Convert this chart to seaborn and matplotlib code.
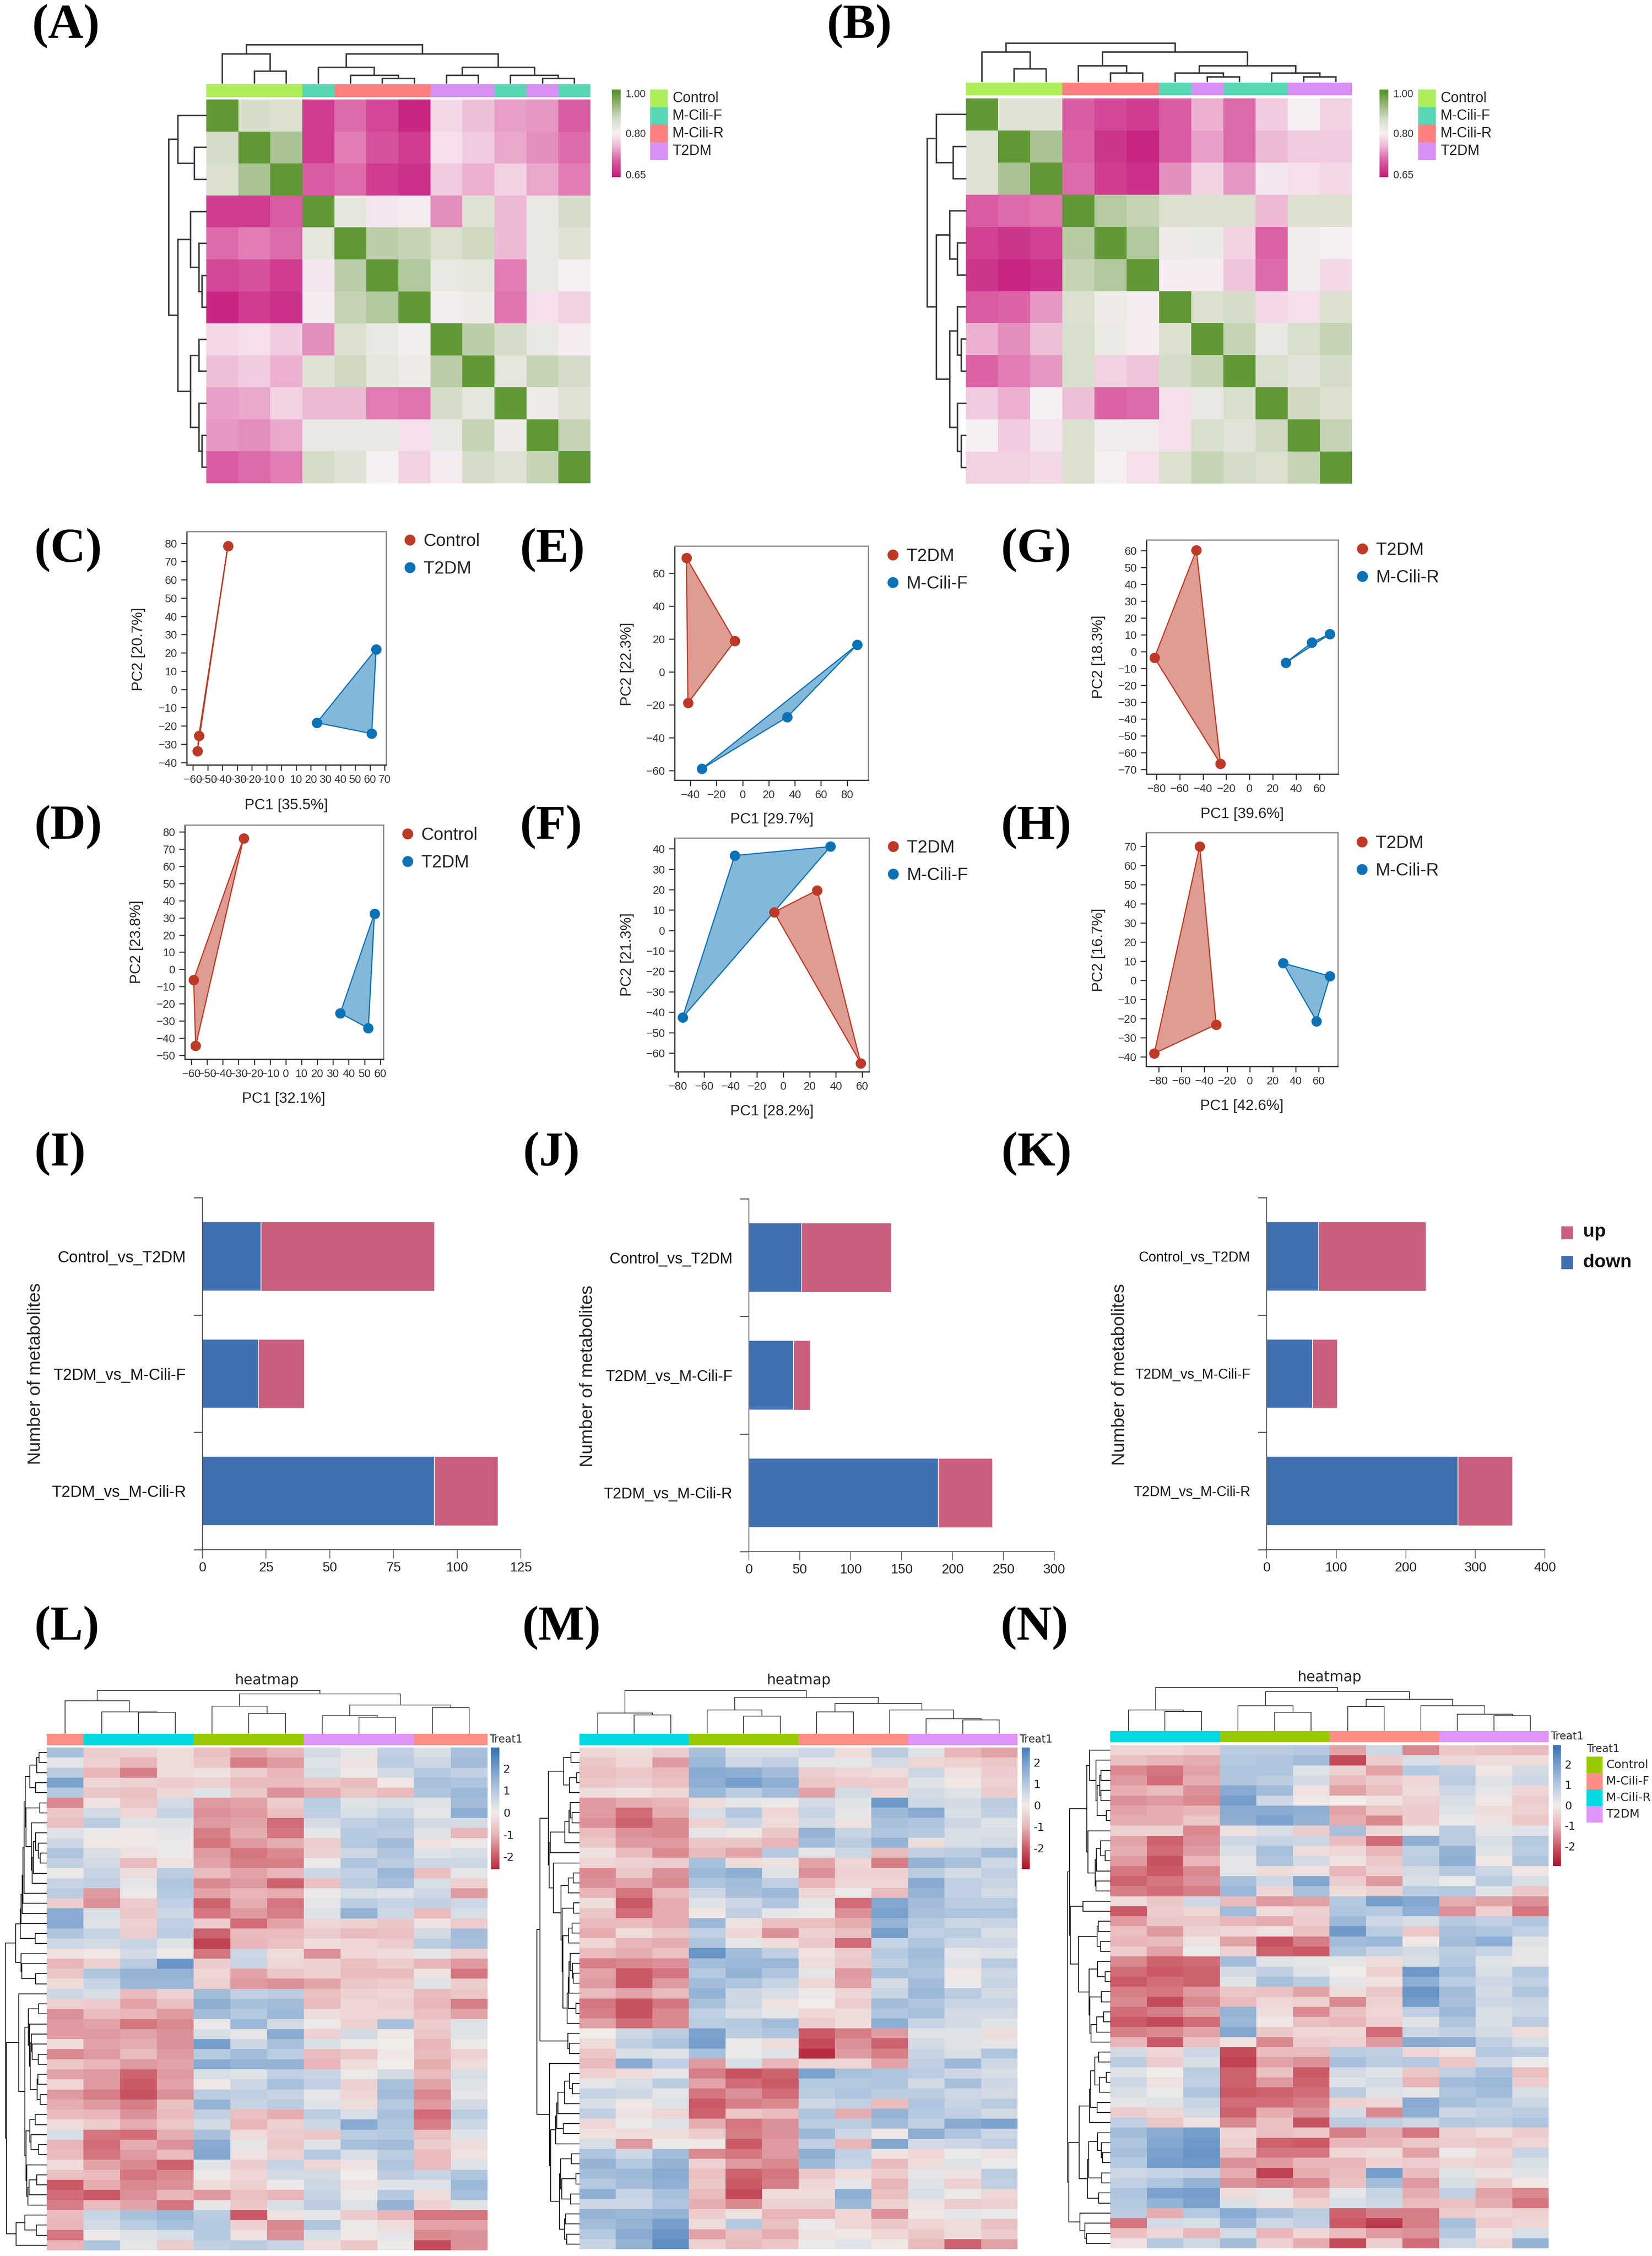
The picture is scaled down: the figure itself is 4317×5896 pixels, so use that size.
import numpy as np
import matplotlib
matplotlib.use("Agg")
import matplotlib.pyplot as plt
import seaborn as sns
from matplotlib import font_manager
from matplotlib.colors import LinearSegmentedColormap, ListedColormap, Normalize, TwoSlopeNorm
from matplotlib.lines import Line2D
from matplotlib.patches import Rectangle

W, H = 4317, 5896

# %% correlation heatmaps (A, B)
GROUP_COLORS_TOP = {"Control": "#ADEE5A", "M-Cili-F": "#58D7B5", "M-Cili-R": "#FF7F7F", "T2DM": "#D890F7"}
GROUPS_A = ["Control"] * 3 + ["M-Cili-F"] + ["M-Cili-R"] * 3 + ["T2DM"] * 2 + ["M-Cili-F", "T2DM", "M-Cili-F"]
GROUPS_B = ["Control"] * 3 + ["M-Cili-R"] * 3 + ["M-Cili-F", "T2DM", "M-Cili-F", "M-Cili-F", "T2DM", "T2DM"]

CORR_A = [
    [1.00, .87, .86, .67, .71, .68, .65, .78, .76, .74, .735, .70],
    [.87, 1.00, .92, .67, .72, .69, .67, .785, .77, .745, .73, .71],
    [.86, .92, 1.00, .70, .71, .67, .66, .77, .75, .775, .745, .72],
    [.67, .67, .70, 1.00, .84, .79, .795, .73, .85, .755, .83, .87],
    [.71, .72, .71, .84, 1.00, .90, .89, .86, .88, .755, .83, .85],
    [.68, .69, .67, .79, .90, 1.00, .91, .83, .84, .72, .83, .80],
    [.65, .67, .66, .795, .89, .91, 1.00, .81, .82, .715, .785, .775],
    [.78, .785, .77, .73, .86, .83, .81, 1.00, .90, .87, .83, .795],
    [.76, .77, .75, .85, .88, .84, .82, .90, 1.00, .84, .89, .87],
    [.74, .745, .775, .755, .755, .72, .715, .87, .84, 1.00, .82, .85],
    [.735, .73, .745, .83, .83, .83, .785, .83, .89, .82, 1.00, .89],
    [.70, .71, .72, .87, .85, .80, .775, .795, .87, .85, .89, 1.00],
]
CORR_B = [
    [1.00, .85, .85, .70, .68, .67, .70, .75, .71, .77, .80, .775],
    [.85, 1.00, .92, .705, .665, .65, .70, .74, .71, .755, .77, .77],
    [.85, .92, 1.00, .71, .67, .66, .73, .775, .735, .79, .785, .78],
    [.70, .71, .715, 1.00, .905, .89, .86, .86, .86, .755, .86, .86],
    [.675, .665, .675, .905, 1.00, .91, .82, .825, .775, .705, .815, .80],
    [.665, .65, .66, .89, .91, 1.00, .795, .795, .765, .71, .815, .78],
    [.70, .705, .735, .86, .82, .795, 1.00, .86, .87, .78, .785, .86],
    [.75, .73, .76, .865, .825, .795, .86, 1.00, .89, .83, .865, .89],
    [.705, .72, .735, .865, .775, .765, .87, .89, 1.00, .865, .845, .87],
    [.77, .75, .80, .76, .705, .71, .785, .83, .865, 1.00, .88, .86],
    [.80, .77, .79, .86, .815, .815, .785, .865, .845, .88, 1.00, .89],
    [.775, .775, .78, .86, .80, .785, .86, .89, .87, .86, .89, 1.00],
]
# (height, left, right), ints are leaves
TREE_A = (128, (97, 0, (40, 1, 2)), (97, (53, 3, (25, 4, (15, 5, 6))), (53, (25, 7, 8), (25, 9, (15, 10, 11)))))
TREE_B = (128, (98, 0, (42, 1, 2)), (98, (53, 3, (28, 4, 5)), (53, (28, 6, (15, 7, 8)), (28, 9, (15, 10, 11)))))

# %% PCA panels (C - H): PC1, PC2 of the 3 samples per group
C_CTRL_X, C_CTRL_Y = [-36.3, -56, -57], [78.5, -25.3, -33.8]
C_T2DM_X, C_T2DM_Y = [64.2, 24, 61.2], [22, -18.2, -24.2]
D_CTRL_X, D_CTRL_Y = [-26.8, -58.5, -57.2], [76.4, -6.1, -44.5]
D_T2DM_X, D_T2DM_Y = [56.3, 34.6, 52.4], [32.5, -25.5, -34.3]
E_T2DM_X, E_T2DM_Y = [-43, -6, -41.8], [69.2, 18.7, -19]
E_CILI_X, E_CILI_Y = [87.7, 34.2, -31.3], [16.4, -27.5, -59]
F_T2DM_X, F_T2DM_Y = [25.8, -7, 58.9], [19.7, 9, -65]
F_CILI_X, F_CILI_Y = [35.9, -36.9, -76.5], [41.1, 36.7, -42.6]
G_T2DM_X, G_T2DM_Y = [-45.7, -81.7, -24.9], [60.2, -3.7, -66.7]
G_CILI_X, G_CILI_Y = [69.1, 53.6, 31], [10.4, 5.3, -6.7]
H_T2DM_X, H_T2DM_Y = [-44, -29.6, -83.8], [70.1, -23.1, -38.2]
H_CILI_X, H_CILI_Y = [29, 70, 58.3], [9, 2.2, -21.3]

# %% stacked bars (I, J, K)
COMPARISONS = ["Control_vs_T2DM", "T2DM_vs_M-Cili-F", "T2DM_vs_M-Cili-R"]
I_DOWN, I_UP = [23, 22, 91], [68, 18, 25]
J_DOWN, J_UP = [52, 44, 186], [88, 16, 53]
K_DOWN, K_UP = [75, 66, 275], [154, 35, 78]

# %% metabolite heatmaps (L, M, N), read off in coarse rows
GROUP_COLORS_LOW = {"Control": "#97CB00", "M-Cili-F": "#FF8F85", "M-Cili-R": "#00DAE0", "T2DM": "#DF95FB"}
GROUPS_L = ["M-Cili-F"] + ["M-Cili-R"] * 3 + ["Control"] * 3 + ["T2DM"] * 3 + ["M-Cili-F"] * 2
GROUPS_M = ["M-Cili-R"] * 3 + ["Control"] * 3 + ["M-Cili-F"] * 3 + ["T2DM"] * 3
GROUPS_N = GROUPS_M
TREE_L = (102, (77, 0, (51, 1, (50, 2, 3))),
          (94, (65, 4, (47, 5, 6)), (67, (42, 7, (38, 8, 9)), (61, 10, 11))))
TREE_M = (102, (48, 0, (44, 1, 2)),
          (86, (56, 3, (41, 4, 5)), (71, (51, 6, 7), (56, 8, (35, 9, (32, 10, 11))))))
TREE_N = (103, (49, 0, (46, 1, 2)),
          (93, (59, 3, (44, 4, 5)), (75, (57, 6, 7), (59, 8, (39, 9, (36, 10, 11))))))

VALUES_L = [
    [1.2, -.6, -.5, -.3, -.8, -1.2, -1.0, .5, .2, .8, .4, 1.2],
    [.2, -.5, -1.0, -.3, -.7, -1.6, -1.3, .3, -.2, .9, .6, 1.3],
    [.9, -1.0, -1.6, -.3, -.2, -.6, -1.0, .4, .1, .5, 1.0, .8],
    [1.9, -.4, -.5, -.6, -.5, -.9, -.9, -.7, -.9, -.1, 1.2, 1.1],
    [1.0, -.7, -.8, -.4, .3, -.7, -1.4, -1.1, -.7, -.9, 1.1, 1.4],
    [-1.5, -.2, -.7, .5, -1.3, -1.2, -.6, .9, .3, .4, .3, 1.3],
    [-.7, .5, -.4, .7, -1.4, -1.3, -.8, .8, .4, .7, .2, 1.6],
    [-.8, .9, .3, .3, -1.3, -1.2, -1.8, .5, .8, 1.0, .5, .5],
    [.3, .1, -.1, .2, -1.6, -1.1, -1.7, .2, 1.0, .9, .3, -1.0],
    [.6, -.1, -.1, .1, -1.7, -1.3, -1.1, -.6, 1.0, 1.3, -.2, .1],
    [1.1, .4, -.2, .1, -1.3, -1.7, -1.5, -.5, .6, 1.1, .3, .4],
    [.8, .5, -.9, -.2, -1.2, -1.6, -1.6, .1, 1.1, .9, .6, .6],
    [.1, .7, -.3, .9, -.9, -1.2, -1.0, .6, .8, 1.4, -.8, .2],
    [.7, .8, .2, 1.1, -1.5, -1.3, -1.9, -.8, .9, 1.2, .4, -.5],
    [.9, -1.3, .1, 1.0, -1.2, -1.0, -1.1, .1, .4, .3, .6, -1.3],
    [-.6, -1.4, -.6, .8, -1.9, -1.1, -1.7, .2, .9, .7, .8, .6],
    [1.7, .4, -.7, .6, -1.7, -1.3, -1.6, .3, 1.5, .6, -.9, .4],
    [1.7, .3, -.5, .8, -.6, -1.8, -1.2, -.4, -.5, -.7, -.2, -.6],
    [1.1, .7, -.6, .9, -1.9, -.9, -.9, -.6, -.9, -.8, .5, 1.3],
    [.6, .5, .7, .3, -2.3, -1.0, -.8, -.3, -.4, -.6, .9, 1.2],
    [-.2, -.1, .5, .1, -1.7, .6, -.3, -1.4, -.4, -.3, .2, -.5],
    [-1.0, -.5, .9, 2.2, -.6, .7, -.4, -.5, -.8, -.6, -1.0, -1.3],
    [-.7, 1.1, 1.5, 1.5, -.4, -1.2, -.7, -.5, -.9, -.9, -.2, -1.7],
    [-.3, .7, 1.4, 1.4, -.5, -1.3, -1.4, -1.2, -.7, -.6, .3, -.6],
    [.6, .4, -.9, -.5, 1.3, .8, .9, -.8, -.5, -.4, -.9, -.7],
    [-.5, -.6, -1.2, -.8, 1.6, 1.2, 1.3, -.9, -.4, -.5, -1.0, -1.6],
    [-1.4, -.9, -1.0, -1.3, 1.3, 1.0, 1.4, -.3, -.4, -.4, -.8, -1.2],
    [-1.3, -1.2, -1.7, -1.5, .1, 1.4, .5, .1, -.5, 1.2, -.6, .3],
    [-1.3, -1.3, -1.2, -1.4, .4, .2, 1.7, -.5, .5, -.1, -.7, .3],
    [-.3, -1.2, -1.1, -1.4, 2.0, .6, 1.2, .4, .1, 0, -1.0, .1],
    [-1.5, -1.3, -.9, -1.3, 1.0, 1.3, .9, -.9, -.7, -.1, -.9, -.5],
    [-.7, -1.0, -1.3, -1.2, 1.7, 1.5, 1.5, -1.0, -.3, 0, -1.1, -.3],
    [-1.2, -1.3, -1.9, -1.3, .4, .3, .8, .7, .1, .5, -.9, .4],
    [-.4, -1.3, -2.0, -1.2, -.1, .6, 1.2, .8, -.5, 1.2, -1.2, .3],
    [-1.3, -1.6, -2.1, -1.4, .9, .8, .7, .2, -.4, 1.3, -1.5, .2],
    [-1.1, -1.3, -1.6, -.8, 1.5, .7, .9, .3, -.3, 1.0, -1.3, .5],
    [-.9, -1.0, -1.4, -.9, .8, -.8, -1.1, .9, .4, 1.2, -1.8, .9],
    [-.3, -.6, -1.1, -.7, .5, -1.0, -.5, .6, 1.7, 1.1, -1.6, .6],
    [.4, -1.7, -1.8, -1.1, 1.2, -.3, -.6, -.7, .9, 1.0, -.8, .3],
    [-1.0, -1.8, -1.1, -1.4, 1.7, .2, -.7, .3, 1.2, 1.3, -.6, -.3],
    [-.9, -1.7, -1.3, -.9, 1.8, -.2, -.5, 1.0, .4, .9, -.9, -.2],
    [-.3, -1.2, -1.5, -1.9, .3, -.6, .7, -.4, -.2, 1.1, -.9, .3],
    [-.8, -.9, -1.7, -1.5, .1, -.4, .5, .5, 0, .9, .7, 1.1],
    [-2.0, -1.1, -1.5, -1.4, -.3, -.5, .1, .6, -.2, .3, .3, 1.4],
    [-1.8, -2.0, -1.4, -1.0, -1.3, -.8, -1.0, .7, .1, 1.0, -.3, 1.2],
    [-1.6, -.9, -1.2, -1.7, .2, -.7, .4, .9, .3, 1.5, -.5, .3],
    [-.9, .7, 1.2, 1.4, .9, -2.0, -.2, .2, -.6, -1.0, -1.7, -1.7],
    [-1.0, .5, .9, 1.2, 1.0, -.5, -1.5, 1.1, .1, -.3, -1.2, -1.2],
    [-1.7, .1, .3, .4, 1.0, -.2, -1.4, .4, -.1, .2, -1.5, -1.4],
    [-1.0, 1.1, .2, -.6, .8, .9, .7, -.3, -.7, .1, -2.2, -1.4],
]
VALUES_M = [
    [-.4, -.3, -.6, 1.2, .4, .4, .6, -.3, .9, .3, -1.0, -1.2],
    [-.7, -.4, -1.3, 1.4, .6, .8, .2, .2, .5, -.4, -.5, -.7],
    [-.8, -.7, -.9, 1.7, 1.6, 1.3, -.6, -.4, -.3, .6, -.2, -.6],
    [-.7, -.6, -.8, 1.6, 2.0, 1.6, -.7, -.6, -.6, .3, -.1, -.5],
    [-.3, -.2, -.4, 1.4, .9, 1.3, -1.2, .5, -.4, .5, .3, -.6],
    [-1.3, -1.1, -1.0, -.3, .2, .1, .5, .3, 2.1, .6, .5, .9],
    [-1.3, -1.8, -1.1, .4, 1.0, -.4, .7, .2, 1.4, 1.7, .4, .8],
    [-1.4, -1.9, -1.5, -.5, .6, -.3, .5, -.2, 1.2, 1.1, .6, .3],
    [-.9, -1.4, -1.5, .2, -.1, -.7, 1.5, .7, 1.1, 1.0, .4, .4],
    [-.7, -1.3, -1.3, -.7, -.7, -1.0, 1.3, .9, 1.5, -.3, .4, .5],
    [-.2, -.9, -1.5, -.9, -1.2, 1.0, .2, .6, -.9, .8, .9, 1.3],
    [-.4, -.5, -.6, 1.2, -.3, -.2, -1.2, -.4, -1.6, 1.5, 1.2, .6],
    [-1.5, -.7, -1.4, 1.4, 1.6, .3, -1.4, -.5, -.5, .9, .5, .8],
    [-1.4, -1.2, -1.5, 1.1, 1.3, .8, -1.0, -.4, -.4, 1.7, .8, .7],
    [-1.0, -1.7, -.9, .6, 1.2, 1.4, -.4, .1, -.9, 1.5, .8, .5],
    [-.3, -2.0, -1.1, .3, .6, 1.1, .2, -1.8, 1.8, 1.3, .9, .9],
    [-.7, -1.8, -1.1, -.1, .8, .2, .1, -1.4, 1.9, 1.2, 1.1, 1.1],
    [-.9, -.9, -1.1, 1.4, -.2, -.8, -.8, -1.1, 1.5, 1.0, .6, .7],
    [-1.1, -.3, -.7, .8, -.4, -1.4, -.5, -.8, 2.0, .8, .9, .4],
    [-.4, -1.0, -1.1, 1.1, .2, -.3, -.7, -1.8, .7, 1.1, .6, .6],
    [-.9, -1.1, -.8, 2.2, 1.3, .8, -.2, -.6, 1.0, 1.3, .2, .3],
    [-1.6, -1.5, -1.4, 1.3, 1.4, 1.4, -.3, -.7, .8, 1.2, .3, .9],
    [-1.2, -2.0, -1.7, 1.0, 1.5, 1.1, .2, -1.3, 1.2, 1.1, -.1, .6],
    [-1.3, -2.0, -1.3, 1.3, 1.1, .7, -.4, -1.2, .5, 1.3, .1, .7],
    [-.9, -1.2, -.9, 1.5, .6, .4, .1, -.4, .7, 1.4, .9, .5],
    [-1.7, -2.1, -1.7, 1.2, .6, -.2, 0, -.6, 1.3, 1.1, .7, .7],
    [-1.6, -2.1, -1.5, .8, .4, .2, -.4, -.3, 1.1, 1.2, .5, .5],
    [-1.2, -1.8, -1.5, .9, 1.0, 1.3, -.6, -.3, 1.6, .7, .5, .3],
    [0, .6, .9, 1.9, .9, 1.1, -2.0, -1.6, -1.3, .3, .3, -.3],
    [-.3, .8, 1.1, 2.0, .1, -.3, -2.2, -1.4, -1.9, .5, .3, .2],
    [-.7, .4, .3, 1.2, .1, .3, -2.6, -1.3, -1.6, .7, .4, 1.1],
    [-.9, 1.7, .8, -1.3, .4, -1.0, -.4, -.4, -1.2, .8, 1.4, .6],
    [-.5, -.3, .2, -1.6, -2.1, -1.9, 1.9, 1.2, 1.1, .9, .6, .4],
    [.2, .4, .9, -1.2, -1.8, -2.0, 1.0, 1.0, 1.1, .5, 1.2, .6],
    [.7, .6, .2, -1.7, -1.4, -1.8, .9, 1.1, .9, .9, .6, .5],
    [.4, -.1, .3, -2.0, -1.6, -1.5, .6, .8, -.9, 1.1, .7, .9],
    [.8, -.2, -.4, -1.9, -.7, -.9, 1.1, -1.1, 1.5, 1.0, .8, .5],
    [-.4, .1, .3, -1.1, -1.7, -1.4, .9, .9, 1.3, .8, 1.7, 1.9],
    [-.2, -.3, -.3, -.6, -1.6, -1.4, 1.4, .6, -.1, 1.6, 1.1, .6],
    [.4, -1.3, .1, -.1, -2.0, -1.3, .8, -1.0, 1.8, .5, .6, .8],
    [1.1, .6, 1.3, -1.5, -1.7, -1.3, 1.6, .8, -.2, -.4, .1, -.2],
    [1.5, 1.0, 1.5, -.5, -1.3, -1.5, 1.4, .7, -.9, -.3, .3, .1],
    [1.3, 1.4, 1.7, -.8, -1.9, -1.7, -.7, -.3, -.6, .2, -.2, .9],
    [1.0, 1.3, 1.6, -.7, -2.0, -1.6, -.4, .2, -1.0, .3, -.5, .8],
    [1.6, .7, 1.2, -.9, -2.2, -.3, -.3, 1.6, -.8, .4, .1, -.4],
    [.6, .6, 1.1, -1.1, -1.5, -.5, -.5, 1.4, -.5, -.2, -.6, -.5],
    [1.5, 1.4, 1.5, -.6, -.2, -1.0, -1.0, -.4, -1.4, -.1, .2, .1],
    [1.3, 1.5, 2.0, -.3, 1.0, -.8, .1, -.4, -.7, -.4, -.3, -.8],
    [1.0, 1.7, 2.2, -1.2, -.8, -1.1, -.2, -.1, -.4, -.7, -.3, -.6],
    [.7, 1.5, 2.3, -.5, -.9, -.7, .1, .3, -.1, -.9, -1.9, -1.2],
]
VALUES_N = [
    [-.4, -.4, -.6, .9, .9, 1.0, -1.2, .6, -1.5, -.7, -.8, -.9],
    [-.8, -1.0, -1.1, 1.0, 1.1, 1.3, -2.2, -.6, .4, -.4, -.3, -.3],
    [-1.5, -1.7, -1.2, 1.1, 1.1, .3, -.5, -1.2, 1.0, .8, -.1, .5],
    [-1.3, -1.8, -1.1, 1.1, .9, .5, -.9, -.6, -.4, .9, .3, .6],
    [-1.1, -.9, -1.4, 1.7, 1.3, -.2, -1.2, -.8, -.3, .6, .2, -.4],
    [-1.4, -1.3, -1.5, 2.0, .6, -.1, 0, -.2, -.5, .4, -.1, -.6],
    [-1.2, -1.1, -1.0, 1.7, 1.7, 1.6, -1.2, -.7, -.6, .3, -.3, -.5],
    [-1.1, -1.1, -.7, 1.6, 1.9, 1.5, -1.1, -1.5, -.6, .1, -.2, -.7],
    [-.5, -.5, -1.5, -.2, .4, -.6, 1.2, -.4, .1, .9, .2, .3],
    [-1.2, -1.9, -1.4, .6, .7, .6, -.9, -1.8, 1.6, .9, .4, 1.0],
    [-1.1, -1.8, -1.3, .4, 1.2, -.3, -.4, -1.0, .8, 1.5, .3, .9],
    [-1.3, -2.1, -1.0, .2, 1.1, .5, -.2, -.7, .9, 1.6, -.1, 1.1],
    [-1.7, -2.0, -1.5, .2, -.3, -.2, -1.0, -.5, .5, 1.0, .6, -.1],
    [-1.9, -1.7, -1.4, 1.2, .6, 1.8, -.6, -1.3, .4, .1, .9, .4],
    [-1.6, -1.8, -1.6, 1.4, -.4, 1.2, -.3, -.5, .9, 1.0, .3, -.7],
    [-.3, -.7, .6, -.9, -1.3, -1.2, 1.0, 2.0, 1.8, -1.1, -1.2, -1.4],
    [-2.0, -.6, -.4, 1.3, -.3, -.5, 1.1, 1.0, 1.6, -1.4, -.5, -1.7],
    [-1.3, -.7, -.7, -1.0, -1.1, -.6, 1.4, .6, .4, 1.0, .8, 1.1],
    [-.8, -1.3, -.5, -.4, -.2, -.8, 2.1, .9, -.7, 1.2, 1.1, .8],
    [-1.0, -.9, -.2, -1.2, -2.1, -1.6, 1.3, 1.4, -.1, 1.3, 1.6, .3],
    [-.6, -1.2, .1, -.5, -1.9, -2.0, 1.1, .7, .5, .9, .7, .2],
    [-1.5, -1.9, -1.8, 1.3, .3, .2, .2, -.3, .4, 1.0, .3, .2],
    [-1.8, -2.0, -1.9, .5, .8, .3, 0, -.5, 2.1, 1.2, .4, 1.0],
    [-2.0, -1.8, -1.9, .3, 1.2, .9, .2, -.2, 1.6, .9, .6, .8],
    [-1.6, -1.7, -1.3, -.7, -.8, -1.2, -.3, -.7, 2.2, 1.3, .5, 1.1],
    [-1.5, -2.2, -1.5, -.9, -.4, -.5, -1.5, -.5, 2.0, 1.2, .6, .7],
    [-1.8, -1.6, -1.2, 1.5, -.3, -1.5, -.8, -.4, .8, 1.4, .4, .6],
    [-2.0, -2.2, -1.8, 1.4, -.1, -.8, -1.0, -.5, .3, 1.1, .4, .9],
    [-1.6, -1.5, -1.2, 1.8, -.7, -.4, -.4, -1.8, .6, .8, .5, -.3],
    [-1.0, -2.0, -.8, -.2, -1.5, -.6, -.5, -1.3, 1.7, 1.6, .8, .4],
    [.5, -.4, .6, -2.2, -.9, -.9, .9, .8, -.4, -.2, 1.0, .9],
    [.9, -.6, .4, -2.3, -1.2, -1.4, 1.2, .9, 1.0, -.7, .6, .1],
    [.3, 0, .9, -1.9, -.8, -2.0, .5, .3, -.7, .8, 1.2, -.8],
    [.6, -.2, .8, -1.9, -1.3, -1.9, .3, .5, -1.0, 1.3, 1.4, -.6],
    [.4, .1, 1.1, -2.0, -1.9, -1.8, .9, .3, .2, 1.1, 1.3, .4],
    [.2, .3, .7, -1.8, -1.8, -1.6, -.5, -.4, 1.7, 1.2, 1.0, .6],
    [-.6, -.4, .5, -1.9, -1.1, -1.4, .5, -1.5, 1.6, .6, .8, .9],
    [.8, -.7, -.2, -1.5, -.8, -2.1, .9, .8, .6, 1.0, .9, 1.1],
    [1.3, 1.7, 2.0, -.4, -.8, -.7, -1.6, -1.1, -1.7, -.5, -.3, -.6],
    [1.1, 1.8, 2.1, -.5, -1.9, -2.0, -1.0, -1.0, -.7, -.6, -.7, -.4],
    [1.2, 1.9, 2.2, -.8, -1.7, -1.7, -.4, -.3, -1.2, .1, -.4, .7],
    [1.0, 2.0, 2.1, -1.4, -1.3, -1.0, -1.0, -.5, -.6, -.4, -.5, .4],
    [.6, .7, .8, -1.1, -2.3, -1.1, -.9, 2.0, -.9, .3, -.2, .3],
    [.8, 1.1, 1.5, -1.4, -1.6, -1.5, -.8, 1.3, -1.3, .4, -.6, -.1],
    [1.1, 1.9, 2.0, -.3, .2, -.9, .2, .7, -1.1, .8, -1.2, -1.5],
    [1.0, 1.5, 1.9, .4, -.2, -.5, .4, .6, -.9, -.8, -1.1, -1.7],
    [.9, -1.1, 1.0, 1.7, 1.2, .9, -1.9, -1.6, -1.6, -.6, -.4, -.5],
    [-1.7, .5, .4, 1.4, .6, .8, -2.0, -2.4, -1.6, 1.2, -.6, -.4],
    [-.8, -.4, -1.0, .5, -1.0, -.4, -.9, -1.3, -1.4, 1.0, -.2, .4],
    [-.2, 1.0, .6, 1.3, -.5, -1.1, -2.2, -.6, -1.8, .6, -.4, 1.5],
]

RED, BLUE = "#BE3A26", "#0B72B5"

sns.set_theme(style="white")
names = {f.name for f in font_manager.fontManager.ttflist}
has_narrow = "Liberation Sans Narrow" in names
NARROW = "Liberation Sans Narrow" if has_narrow else "Liberation Sans"
plt.rcParams["font.family"] = ["Liberation Sans", "DejaVu Sans"]

fig = plt.figure(figsize=(W / 100, H / 100), dpi=100, facecolor="white")


def axes_px(x0, y0, x1, y1):
    return fig.add_axes([x0 / W, 1 - y1 / H, (x1 - x0) / W, (y1 - y0) / H])


def text_px(x, y, s, **kw):
    kw.setdefault("va", "center")
    fig.text(x / W, 1 - y / H, s, **kw)


def rect_px(x0, y0, x1, y1, color):
    fig.add_artist(Rectangle((x0 / W, 1 - y1 / H), (x1 - x0) / W, (y1 - y0) / H,
                             transform=fig.transFigure, fc=color, ec="none"))


def draw_tree(ax, node, side, lw, color):
    # returns (leaf position, height) of the node
    if isinstance(node, int):
        return node + 0.5, 0
    h, a, b = node
    pa, ha = draw_tree(ax, a, side, lw, color)
    pb, hb = draw_tree(ax, b, side, lw, color)
    if side == "top":
        ax.plot([pa, pa, pb, pb], [ha, h, h, hb], color=color, lw=lw, clip_on=False, solid_joinstyle="miter")
    else:
        ax.plot([-ha, -h, -h, -hb], [pa, pa, pb, pb], color=color, lw=lw, clip_on=False, solid_joinstyle="miter")
    return (pa + pb) / 2, h


def tree_axes(rect, tree, n, side, lw, color):
    ax = axes_px(*rect)
    draw_tree(ax, tree, side, lw, color)
    if side == "top":
        ax.set_xlim(0, n)
        ax.set_ylim(0, tree[0])
    else:
        ax.set_xlim(-tree[0], 0)
        ax.set_ylim(n, 0)
    ax.axis("off")


def annotation_bar(rect, groups, palette):
    ax = axes_px(*rect)
    keys = list(palette)
    codes = np.array([[keys.index(g) for g in groups]])
    sns.heatmap(codes, cmap=ListedColormap(list(palette.values())), vmin=0, vmax=len(keys) - 1,
                cbar=False, xticklabels=False, yticklabels=False, ax=ax)


def row_tree(values):
    # average linkage, only neighbours may merge so that the rows keep their order
    values = np.array(values, dtype=float)
    clusters = [(i, values[i], 1) for i in range(len(values))]
    merges = []
    while len(clusters) > 1:
        d = [np.linalg.norm(clusters[i][1] - clusters[i + 1][1]) for i in range(len(clusters) - 1)]
        i = int(np.argmin(d))
        a, b = clusters[i], clusters[i + 1]
        merges.append(d[i])
        n = a[2] + b[2]
        node = [d[i], a[0], b[0]]
        clusters[i:i + 2] = [(node, (a[1] * a[2] + b[1] * b[2]) / n, n)]
    top = max(merges)

    def finish(node):
        if isinstance(node, int):
            return node, 0
        l, hl = finish(node[1])
        r, hr = finish(node[2])
        h = max((node[0] / top) ** 1.5 * 100, hl + 2.5, hr + 2.5)
        return (h, l, r), h

    tree, height = finish(clusters[0][0])
    return tree


# %% A, B
corr_cmap = LinearSegmentedColormap.from_list(
    "corr", [(0, "#C41A7E"), (.2, "#DB62A5"), (.35, "#EDB6D4"), (.5, "#F7F0F4"),
             (.6, "#E3E5DA"), (.68, "#D0DAC2"), (.77, "#ABC494"), (1, "#4F8F20")])
TOP_LAYOUT = [
    (CORR_A, GROUPS_A, TREE_A, (539, 260, 1543, 1263), (220, 254), 117, 441, 1599, 1699),
    (CORR_B, GROUPS_B, TREE_B, (2524, 257, 3533, 1264), (216, 249), 113, 2423, 3605, 3706),
]
for corr, groups, tree, rect, bar_y, root_y, root_x, cbar_x, leg_x in TOP_LAYOUT:
    x0, y0, x1, y1 = rect
    ax = axes_px(*rect)
    cax = axes_px(cbar_x, 234, cbar_x + 23, 463)
    sns.heatmap(np.array(corr), cmap=corr_cmap, norm=TwoSlopeNorm(vmin=.64, vcenter=.8, vmax=1.02),
                xticklabels=False, yticklabels=False, ax=ax, cbar_ax=cax)
    cbar = ax.collections[0].colorbar
    cbar.outline.set_visible(False)
    cbar.set_ticks([.65, .8, 1.0], labels=["0.65", "0.80", "1.00"])
    cax.minorticks_off()
    cax.tick_params(length=0, labelsize=19.5, pad=9, colors="#333333")
    annotation_bar((x0, bar_y[0], x1, bar_y[1]), groups, GROUP_COLORS_TOP)
    tree_axes((x0, root_y, x1, bar_y[0] - 3), tree, 12, "top", 2.8, "#3c3c3c")
    tree_axes((root_x, y0, x0, y1), tree, 12, "left", 2.8, "#3c3c3c")
    for i, (name, color) in enumerate(GROUP_COLORS_TOP.items()):
        rect_px(leg_x, 234 + i * 46, leg_x + 46, 234 + (i + 1) * 46, color)
        text_px(leg_x + 58, 234 + (i + .5) * 46, name, fontsize=27, color="#222222")

# %% C - H
PCA_LAYOUT = [
    ("PC1 [35.5%]", "PC2 [20.7%]", (488, 1389, 1009, 1999), (-64.2, 71), (-41.3, 86.4), range(-60, 71, 10), range(-40, 81, 10),
     C_CTRL_X, C_CTRL_Y, C_T2DM_X, C_T2DM_Y, ("Control", "T2DM"), (1071, 1451), (748, 2105), (362, 1697)),
    ("PC1 [32.1%]", "PC2 [23.8%]", (483, 2156, 1002, 2768), (-64.1, 62), (-52.3, 84.1), range(-60, 61, 10), range(-50, 81, 10),
     D_CTRL_X, D_CTRL_Y, D_T2DM_X, D_T2DM_Y, ("Control", "T2DM"), (1065, 2219), (741, 2872), (357, 2462)),
    ("PC1 [29.7%]", "PC2 [22.3%]", (1763, 1427, 2269, 2039), (-52, 96.2), (-65.9, 76.4), range(-40, 81, 20), range(-60, 61, 20),
     E_T2DM_X, E_T2DM_Y, E_CILI_X, E_CILI_Y, ("T2DM", "M-Cili-F"), (2333, 1490), (2017, 2142), (1639, 1736)),
    ("PC1 [28.2%]", "PC2 [21.3%]", (1763, 2190, 2271, 2801), (-82.5, 65.2), (-69.2, 45.3), range(-80, 61, 20), range(-60, 41, 10),
     F_T2DM_X, F_T2DM_Y, F_CILI_X, F_CILI_Y, ("T2DM", "M-Cili-F"), (2334, 2252), (2017, 2905), (1639, 2495)),
    ("PC1 [39.6%]", "PC2 [18.3%]", (2996, 1411, 3497, 2023), (-88.5, 76.2), (-72.8, 66.3), range(-80, 61, 20), range(-70, 61, 10),
     G_T2DM_X, G_T2DM_Y, G_CILI_X, G_CILI_Y, ("T2DM", "M-Cili-R"), (3560, 1474), (3246, 2128), (2871, 1717)),
    ("PC1 [42.6%]", "PC2 [16.7%]", (2995, 2176, 3496, 2787), (-90.9, 76.9), (-45, 77.3), range(-80, 61, 20), range(-40, 71, 10),
     H_T2DM_X, H_T2DM_Y, H_CILI_X, H_CILI_Y, ("T2DM", "M-Cili-R"), (3559, 2240), (3245, 2891), (2871, 2483)),
]
for (xlab, ylab, rect, xlim, ylim, xticks, yticks, rx, ry, bx, by,
     labels, leg_pos, xlab_pos, ylab_pos) in PCA_LAYOUT:
    ax = axes_px(*rect)
    for xs, ys, color in ((rx, ry, RED), (bx, by, BLUE)):
        ax.fill(xs, ys, facecolor=color, alpha=.5, edgecolor="none", zorder=2)
        ax.fill(xs, ys, facecolor="none", edgecolor=color, lw=2.2, zorder=2)
        sns.scatterplot(x=xs, y=ys, color=color, s=380, linewidth=0, legend=False, ax=ax, zorder=3)
    ax.set_xlim(*xlim)
    ax.set_ylim(*ylim)
    ax.set_xticks(list(xticks))
    ax.set_yticks(list(yticks))
    ax.tick_params(direction="out", length=11, width=2, labelsize=21, colors="#333333", left=True, bottom=True, pad=7)
    for side, col in (("left", "#333333"), ("bottom", "#333333"), ("top", "#8a8a8a"), ("right", "#8a8a8a")):
        ax.spines[side].set_color(col)
        ax.spines[side].set_linewidth(2.4)
    ax.set_xlabel(xlab, fontsize=28, color="#222222", va="center", ha="center")
    ax.set_ylabel(ylab, fontsize=28, color="#222222", va="center", ha="center")
    ax.xaxis.set_label_coords(xlab_pos[0] / W, 1 - xlab_pos[1] / H, transform=fig.transFigure)
    ax.yaxis.set_label_coords(ylab_pos[0] / W, 1 - ylab_pos[1] / H, transform=fig.transFigure)
    handles = [Line2D([], [], marker="o", ls="", color=c, markersize=19.5) for c in (RED, BLUE)]
    fig.legend(handles, labels, loc="center left", bbox_to_anchor=((leg_pos[0] - 23) / W, 1 - leg_pos[1] / H),
               bbox_transform=fig.transFigure, frameon=False, fontsize=33, handlelength=1, handletextpad=.28,
               labelspacing=.62, borderpad=0, borderaxespad=0, labelcolor="#222222")

# %% I, J, K
BAR_UP, BAR_DOWN = "#C95F7C", "#4170B2"
tick_size = 31 if has_narrow else 25
narrow_scale = 1.2 if has_narrow else 1.0
BAR_LAYOUT = [
    (I_DOWN, I_UP, (529, 3130, 1361, 4050), 125, range(0, 126, 25), (93, 3590), 30),
    (J_DOWN, J_UP, (1957, 3133, 2755, 4055), 300, range(0, 301, 50), (1536, 3596), 28.7),
    (K_DOWN, K_UP, (3310, 3130, 4037, 4050), 400, range(0, 401, 100), (2926, 3592), 26),
]
for down, up, rect, xmax, xticks, ylab_pos, label_size in BAR_LAYOUT:
    ax = axes_px(*rect)
    total = [d + u for d, u in zip(down, up)]
    sns.barplot(y=COMPARISONS, x=total, color=BAR_UP, orient="h", width=.59, saturation=1, ax=ax)
    sns.barplot(y=COMPARISONS, x=down, color=BAR_DOWN, orient="h", width=.59, saturation=1, ax=ax,
                edgecolor="white", linewidth=1.5)
    ax.set_xlim(0, xmax)
    ax.set_ylim(2.5, -.5)
    ax.set_xticks(list(xticks))
    ax.set_yticks([0, 1, 2])
    ax.set_yticklabels(COMPARISONS, fontsize=label_size * narrow_scale, family=NARROW, color="#111111")
    ax.set_yticks([-.5, .5, 1.5, 2.5], minor=True)
    ax.tick_params(axis="y", which="major", length=0, pad=31)
    ax.tick_params(axis="y", which="minor", left=True, length=16.5, width=2, color="#555555")
    ax.tick_params(axis="x", bottom=True, length=16.5, width=1.5, color="#666666", pad=6)
    for lab in ax.get_xticklabels():
        lab.set_fontsize(tick_size)
        lab.set_family(NARROW)
        lab.set_color("#222222")
    sns.despine(ax=ax)
    for side in ("left", "bottom"):
        ax.spines[side].set_color("#555555")
        ax.spines[side].set_linewidth(1.6)
    ax.set_xlabel("")
    ax.set_ylabel("Number of metabolites", fontsize=34, color="#222222", va="center", ha="center")
    ax.yaxis.set_label_coords(ylab_pos[0] / W, 1 - ylab_pos[1] / H, transform=fig.transFigure)

rect_px(4080, 3205, 4111, 3239, BAR_UP)
rect_px(4080, 3282, 4111, 3317, BAR_DOWN)
text_px(4137, 3220, "up", fontsize=35, fontweight="bold", color="#111111")
text_px(4137, 3300, "down", fontsize=35, fontweight="bold", color="#111111")

# %% L, M, N
heat_cmap = LinearSegmentedColormap.from_list(
    "heat", ["#A80F26", "#CB5A68", "#E8B6B8", "#F1ECE9", "#B5C9E0", "#769FCB", "#2E6BB3"])
DEJAVU = "DejaVu Sans"
LOW_LAYOUT = [
    (VALUES_L, GROUPS_L, TREE_L, (122, 4567, 1274, 5881), (4531, 4561), 4418, 14, (1283, 1305, 4567, 4885), (-2.57, 2.95), 697),
    (VALUES_M, GROUPS_M, TREE_M, (1514, 4567, 2659, 5878), (4531, 4561), 4418, 1403, (2670, 2691, 4567, 4885), (-2.98, 2.7), 2087),
    (VALUES_N, GROUPS_N, TREE_N, (2901, 4561, 4047, 5876), (4524, 4553), 4410, 2790, (4058, 4079, 4561, 4877), (-2.97, 2.93), 3474),
]
for values, groups, tree, rect, bar_y, root_y, root_x, cb, cb_lim, title_x in LOW_LAYOUT:
    x0, y0, x1, y1 = rect
    ax = axes_px(*rect)
    cax = axes_px(cb[0], cb[2], cb[1], cb[3])
    sns.heatmap(np.array(values), cmap=heat_cmap, norm=Normalize(-3, 3), xticklabels=False, yticklabels=False,
                ax=ax, cbar_ax=cax)
    cbar = ax.collections[0].colorbar
    cbar.outline.set_visible(False)
    cbar.set_ticks([-2, -1, 0, 1, 2], labels=["-2", "-1", "0", "1", "2"])
    cax.set_ylim(*cb_lim)
    cax.tick_params(length=0, labelsize=21, pad=7, colors="#222222")
    for lab in cax.get_yticklabels():
        lab.set_family(DEJAVU)
    annotation_bar((x0, bar_y[0], x1, bar_y[1]), groups, GROUP_COLORS_LOW)
    tree_axes((x0, root_y, x1, bar_y[0] - 1), tree, 12, "top", 1.4, "#333333")
    tree_axes((root_x, y0, x0, y1), row_tree(values), len(values), "left", 1.6, "#1a1a1a")
    text_px(title_x, root_y - 26, "heatmap", fontsize=27, family=DEJAVU, ha="center", color="#222222")
    text_px(x1 + 5, (bar_y[0] + bar_y[1]) / 2, "Treat1", fontsize=20, family=DEJAVU, color="#222222")

text_px(4146, 4571, "Treat1", fontsize=20, family=DEJAVU, color="#222222")
for i, (name, color) in enumerate(GROUP_COLORS_LOW.items()):
    rect_px(4146, 4591 + i * 43, 4188, 4591 + (i + 1) * 43, color)
    text_px(4197, 4591 + (i + .5) * 43, name, fontsize=22, family=DEJAVU, color="#222222")

# %% panel letters
PANEL_LABELS = {"(A)": (83, 68), "(B)": (2160, 68), "(C)": (89, 1437), "(D)": (89, 2161), "(E)": (1358, 1437),
                "(F)": (1358, 2161), "(G)": (2615, 1437), "(H)": (2615, 2161), "(I)": (89, 3015), "(J)": (1366, 3015),
                "(K)": (2616, 3015), "(L)": (89, 4254), "(M)": (1364, 4254), "(N)": (2614, 4254)}
for s, (x, y) in PANEL_LABELS.items():
    text_px(x, y, s, fontsize=92, family="Liberation Serif", fontweight="bold", color="black")

fig.savefig("out.png", dpi=100)
